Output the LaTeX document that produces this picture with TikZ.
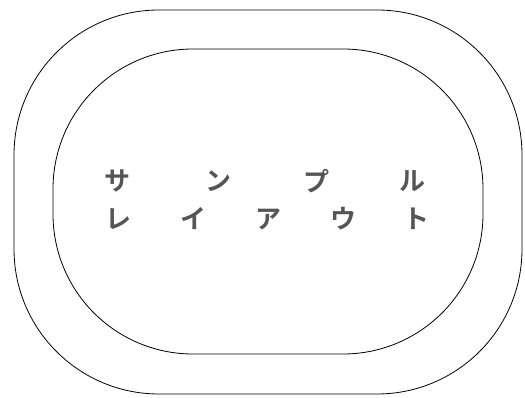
\documentclass[tikz,border=0pt]{standalone}
\usepackage{fontspec}
\newfontfamily\jpfont{Noto Sans CJK JP}[BoldFont={Noto Sans CJK JP Bold}]
\definecolor{txt}{HTML}{555555}
\begin{document}
\begin{tikzpicture}[x=1pt,y=-1pt,
  ring/.style={draw=black,line width=0.8pt,rectangle,inner sep=0pt},
  kana/.style={text=txt,font=\jpfont\bfseries\fontsize{26}{26}\selectfont,inner sep=0pt,anchor=center}]
\useasboundingbox (0,0) rectangle (525,398);
\node[ring,rounded corners=145pt,minimum width=508pt,minimum height=384pt] (outer) at (268,202) {};
\node[ring,rounded corners=140pt,minimum width=430pt,minimum height=305pt] (inner) at (268,201.5) {};
\node[kana] (a1) at (117,181) {サ};
\node[kana] (a2) at (218,181) {ン};
\node[kana] (a3) at (316,181) {プ};
\node[kana] (a4) at (412,181) {ル};
\node[kana] (b1) at (118,219) {レ};
\node[kana] (b2) at (193,219) {イ};
\node[kana] (b3) at (268,219) {ア};
\node[kana] (b4) at (343,219) {ウ};
\node[kana] (b5) at (416,219) {ト};
\end{tikzpicture}
\end{document}
